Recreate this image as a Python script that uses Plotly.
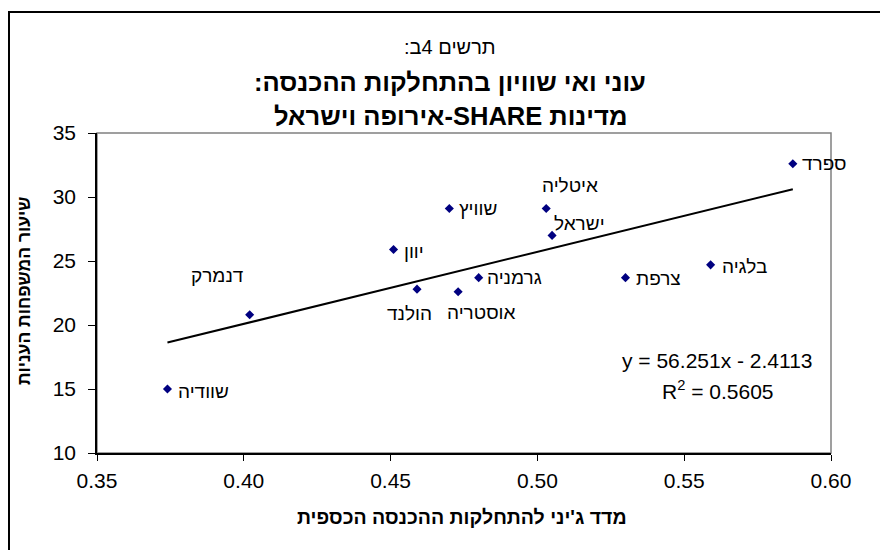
import plotly.graph_objects as go

# ---- data ----
countries = ["שוודיה", "דנמרק", "יוון", "הולנד", "שוויץ", "אוסטריה", "גרמניה",
             "איטליה", "ישראל", "צרפת", "בלגיה", "ספרד"]
gini = [0.374, 0.402, 0.451, 0.459, 0.470, 0.473, 0.480, 0.503, 0.505, 0.530, 0.559, 0.587]
poverty = [15.0, 20.8, 25.9, 22.8, 29.1, 22.6, 23.7, 29.1, 27.0, 23.7, 24.7, 32.6]

trend_slope = 56.251
trend_intercept = -2.4113
r_squared = 0.5605

title_line1 = "תרשים 4ב:"
title_line2 = "עוני ואי שוויון בהתחלקות ההכנסה:"
title_line3 = "מדינות SHARE-אירופה וישראל"
x_title = "מדד ג'יני להתחלקות ההכנסה הכספית"
y_title = "שיעור המשפחות העניות"

x_ticks = [0.35, 0.40, 0.45, 0.50, 0.55, 0.60]
x_ticklabels = ["0.35", "0.40", "0.45", "0.50", "0.55", "0.60"]
y_ticks = [10, 15, 20, 25, 30, 35]

# ---- label placement (pixels, style only) ----
label_offsets = {
    "שוודיה": (36, -2), "דנמרק": (-32, 39), "יוון": (20, -2), "הולנד": (-8, -24),
    "שוויץ": (29, 0), "אוסטריה": (23, -21), "גרמניה": (36, 0), "איטליה": (24, 23),
    "ישראל": (27, 12), "צרפת": (33, -1), "בלגיה": (34, -2), "ספרד": (32, 0),
}

FONT = "Arial, 'Liberation Sans', 'DejaVu Sans', sans-serif"


def rtl(s):
    return "\u202b" + s + "\u202c"


fig = go.Figure()

x0, x1 = min(gini), max(gini)
fig.add_trace(go.Scatter(
    x=[x0, x1], y=[trend_slope * x0 + trend_intercept, trend_slope * x1 + trend_intercept],
    mode="lines", line=dict(color="black", width=2), hoverinfo="skip", showlegend=False))

fig.add_trace(go.Scatter(
    x=gini, y=poverty, mode="markers",
    marker=dict(symbol="diamond", size=7, color="#000080"),
    showlegend=False))

annotations = []
for c, xv, yv in zip(countries, gini, poverty):
    dx, dy = label_offsets[c]
    annotations.append(dict(x=xv, y=yv, xref="x", yref="y", text=rtl(c), showarrow=False,
                            xanchor="center", yanchor="middle",
                            xshift=dx, yshift=dy, font=dict(size=19, color="black", family=FONT)))

sign = "-" if trend_intercept < 0 else "+"


def pann(x, y, text, size, angle=0):
    return dict(x=x, y=y, xref="paper", yref="paper", showarrow=False, text=text,
                xanchor="center", yanchor="middle", textangle=angle,
                font=dict(size=size, color="black", family=FONT))


annotations += [
    pann(0.846, 0.29, f"y = {trend_slope}x {sign} {abs(trend_intercept)}", 21),
    pann(0.846, 0.197, f"R<sup>2</sup> = {r_squared}", 21),
    pann(0.481, 1.269, rtl(title_line1), 20),
    pann(0.481, 1.159, "<b>" + rtl(title_line2) + "</b>", 25.5),
    pann(0.481, 1.053, "<b>" + rtl(title_line3) + "</b>", 25.5),
    pann(0.497, -0.2, "<b>" + rtl(x_title) + "</b>", 19.5),
    pann(-0.0995, 0.509, "<b>" + rtl(y_title) + "</b>", 17.5, -90),
]

shapes = [
    dict(type="rect", xref="paper", yref="paper", x0=0, y0=0, x1=1, y1=1,
         line=dict(color="#808080", width=1.5), layer="below"),
    dict(type="rect", xref="paper", yref="paper", x0=-0.1199, y0=-0.5, x1=1.5, y1=1.378,
         line=dict(color="black", width=2)),
]

fig.update_layout(
    width=888, height=550,
    margin=dict(l=89, r=65, t=125, b=105),
    paper_bgcolor="white", plot_bgcolor="white",
    font=dict(family=FONT, color="black"),
    annotations=annotations, shapes=shapes,
    showlegend=False,
)
fig.update_xaxes(range=[0.35, 0.60], tickvals=x_ticks, ticktext=x_ticklabels,
                 showgrid=False, zeroline=False, showline=True, linecolor="black", linewidth=1.5,
                 ticks="outside", ticklen=6, tickcolor="black", tickfont=dict(size=21, family=FONT),
                 ticklabelstandoff=2)
fig.update_yaxes(range=[10, 35], tickvals=y_ticks,
                 showgrid=False, zeroline=False, showline=True, linecolor="black", linewidth=1.5,
                 ticks="outside", ticklen=7, tickcolor="black", tickfont=dict(size=21, family=FONT),
                 ticklabelstandoff=8)

fig.write_html("out.html")
